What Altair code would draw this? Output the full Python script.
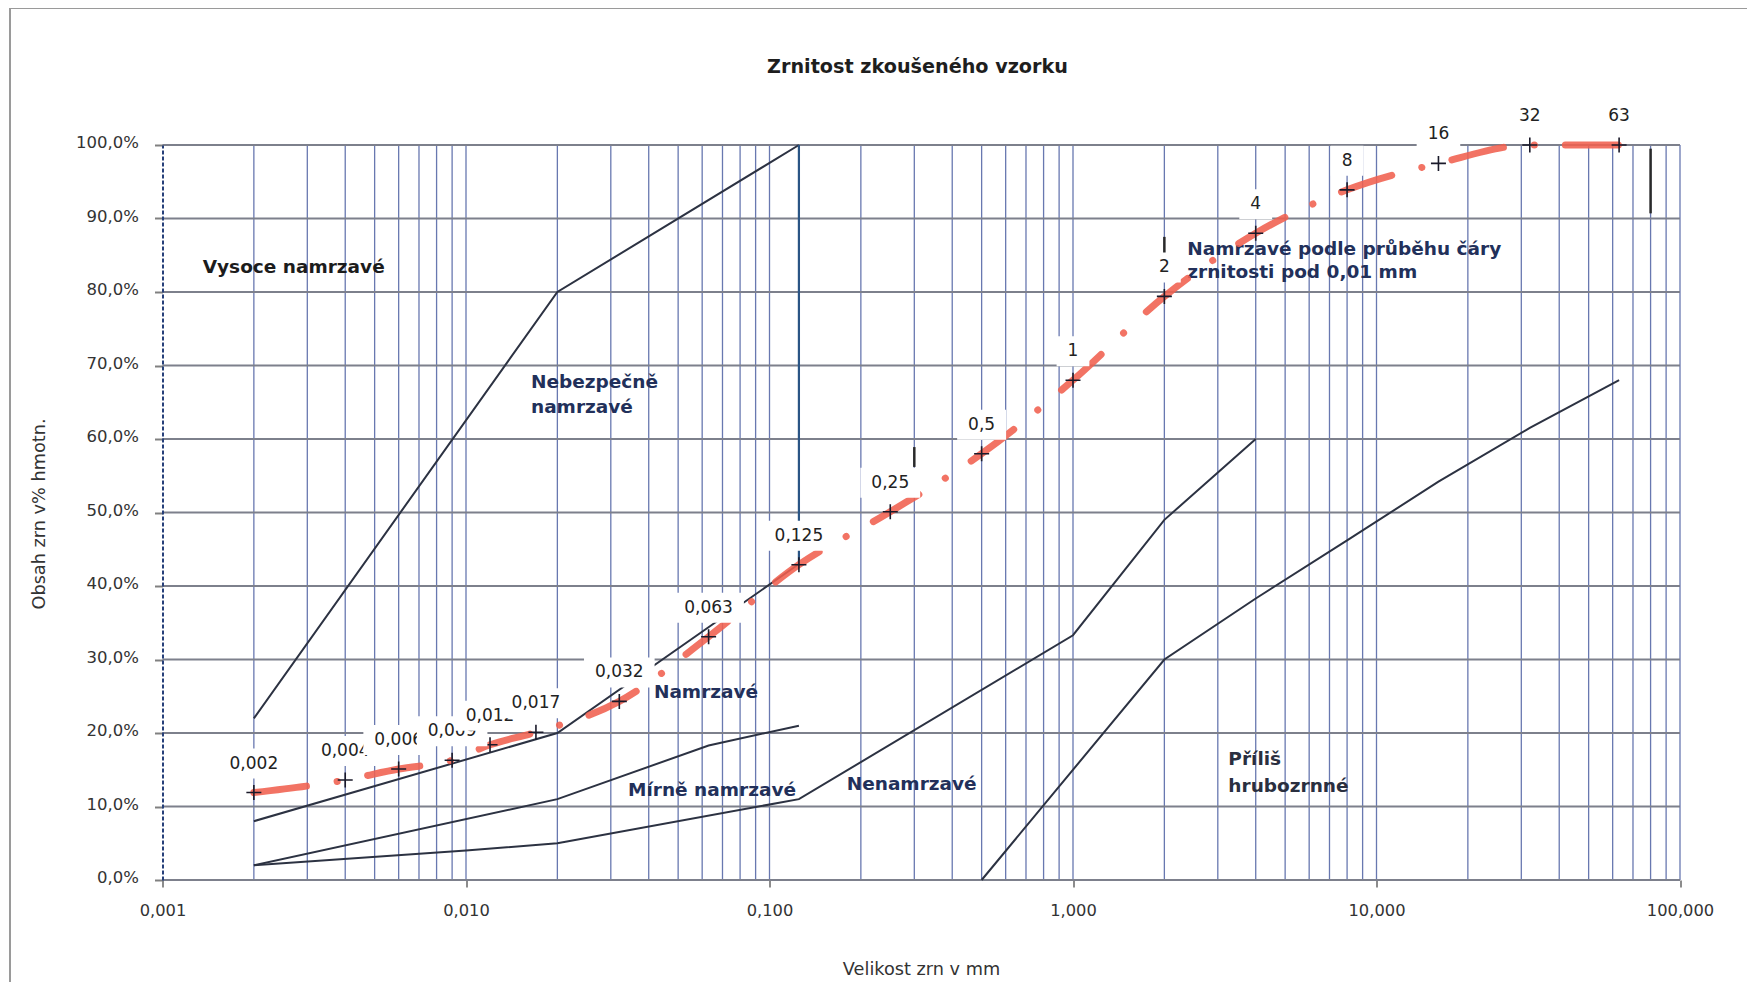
import altair as alt
import pandas as pd

FONT = "DejaVu Sans"
W, H = 1517.5, 735

# ---- sample grading curve ----
sieve_mm = [0.002, 0.004, 0.006, 0.009, 0.012, 0.017, 0.032, 0.063, 0.125,
            0.25, 0.5, 1, 2, 4, 8, 16, 32, 63]
sieve_labels = ["0,002", "0,004", "0,006", "0,009", "0,012", "0,017", "0,032",
                "0,063", "0,125", "0,25", "0,5", "1", "2", "4", "8", "16", "32", "63"]
passing_pct = [11.9, 13.6, 15.1, 16.3, 18.4, 20.1, 24.3, 33.1, 42.9,
               50.1, 58.0, 68.0, 79.4, 88.0, 93.9, 97.5, 100, 100]

# ---- frost-susceptibility boundary lines ----
vysoce_x = [0.002, 0.02, 0.125]
vysoce_y = [22, 80, 100]
nebezp_x = [0.125, 0.125]
nebezp_y = [43, 100]
namrz_x = [0.002, 0.02, 0.125]
namrz_y = [8, 20, 43]
mirne_x = [0.002, 0.02, 0.063, 0.125]
mirne_y = [2, 11, 18.3, 21]
nenam_x = [0.002, 0.01, 0.02, 0.125, 1, 2, 4]
nenam_y = [2, 4, 5, 11, 33.3, 49, 60]
prilis_x = [0.5, 2, 4, 8, 16, 32, 63]
prilis_y = [0, 30, 38.3, 46.2, 54.2, 61.5, 68]

# short dark vertical strokes visible in the scan
mark_x = [0.3, 2, 80]
mark_y1 = [56.2, 84.1, 90.7]
mark_y2 = [58.9, 87.5, 99.5]

# ---- zone annotations ----
ann_text = ["Vysoce namrzavé", "Nebezpečně", "namrzavé",
            "Namrzavé podle průběhu čáry", "zrnitosti pod 0,01 mm",
            "Namrzavé", "Mírně namrzavé", "Nenamrzavé", "Příliš", "hrubozrnné"]
ann_x = [0.001357, 0.01637, 0.01637, 2.38, 2.38, 0.0416, 0.0342, 0.1796, 3.25, 3.25]
ann_y = [83.4, 67.8, 64.4, 85.9, 82.7, 25.6, 12.3, 13.1, 16.4, 12.8]
ann_col = ["#1c1c1c", "#22305a", "#22305a", "#22305a", "#22305a",
           "#22305a", "#22305a", "#22305a", "#2a2f40", "#2a2f40"]

# ---- axes ----
grid_x = [m * 10.0 ** k for k in range(-3, 2) for m in range(1, 10)] + [100.0]
grid_y = list(range(0, 101, 10))
decade_ticks = [0.001, 0.01, 0.1, 1, 10, 100]

title_text = "Zrnitost zkoušeného vzorku"
x_title = "Velikost zrn v mm"
y_title = "Obsah zrn v% hmotn."

xscale = alt.Scale(type="log", domain=[0.001, 100], nice=False)
yscale = alt.Scale(domain=[0, 100], nice=False, zero=False)
xaxis = alt.Axis(values=decade_ticks,
                 labelExpr="replace(format(datum.value, '.3f'), '.', ',')",
                 grid=False, domain=False, ticks=True, tickSize=7, tickWidth=1.5,
                 tickColor="#666666", labelFont=FONT, labelFontSize=16.3,
                 labelColor="#333333", labelPadding=15, labelOverlap=False,
                 labelFlush=False, title=None)
yaxis = alt.Axis(values=grid_y,
                 labelExpr="replace(format(datum.value, '.1f'), '.', ',') + '%'",
                 grid=False, domain=True, domainColor="#27407a", domainDash=[4, 2],
                 domainWidth=2, tickSize=8, tickWidth=2, tickColor="#808080",
                 labelFont=FONT, labelFontSize=16.5, labelColor="#333333",
                 labelPadding=16, labelOffset=-2.5, labelOverlap=False,
                 title=None, zindex=1)


def X():
    return alt.X("x:Q", scale=xscale, axis=xaxis)


def Y():
    return alt.Y("y:Q", scale=yscale, axis=yaxis)


layers = []

# vertical grid (minor log grid)
vg = pd.DataFrame({"x": [g for g in grid_x if g > 0.0011]})
layers.append(alt.Chart(vg).mark_rule(color="#6878b0", strokeWidth=1.3)
              .encode(x=X(), y=alt.value(0), y2=alt.value(H)))
# horizontal grid
hg = pd.DataFrame({"y": grid_y})
layers.append(alt.Chart(hg).mark_rule(color="#7d808c", strokeWidth=2)
              .encode(y=Y(), x=alt.value(0), x2=alt.value(W)))

# boundary lines
rows = []
for name, xs, ys in [("vysoce", vysoce_x, vysoce_y), ("namrz", namrz_x, namrz_y),
                     ("mirne", mirne_x, mirne_y), ("nenam", nenam_x, nenam_y),
                     ("prilis", prilis_x, prilis_y)]:
    for i, (a, b) in enumerate(zip(xs, ys)):
        rows.append({"seg": name, "x": a, "y": b, "o": i})
bd = pd.DataFrame(rows)
layers.append(alt.Chart(bd).mark_line(color="#2c3242", strokeWidth=2)
              .encode(x=X(), y=Y(), detail="seg:N", order="o:Q"))
nb = pd.DataFrame({"x": nebezp_x, "y": nebezp_y})
layers.append(alt.Chart(nb).mark_line(color="#2a5585", strokeWidth=2.2)
              .encode(x=X(), y=Y()))

# scan strokes
mk = pd.DataFrame({"x": mark_x, "y": mark_y1, "y2": mark_y2})
layers.append(alt.Chart(mk).mark_rule(color="#2a2a2a", strokeWidth=2.5)
              .encode(x=X(), y=Y(), y2="y2:Q"))

# annotations
an = pd.DataFrame({"text": ann_text, "x": ann_x, "y": ann_y, "col": ann_col})
layers.append(alt.Chart(an).mark_text(align="left", baseline="middle", font=FONT,
                                      fontSize=18.5, fontWeight="bold")
              .encode(x=X(), y=Y(), text="text:N",
                      color=alt.Color("col:N", scale=None)))

# sample curve
sd = pd.DataFrame({"x": sieve_mm, "y": passing_pct, "lab": sieve_labels})
layers.append(alt.Chart(sd).mark_line(color="#f0604f", strokeWidth=7, opacity=0.88,
                                      strokeDash=[53, 31, 0.1, 31], strokeCap="round",
                                      interpolate="monotone")
              .encode(x=X(), y=Y()))
layers.append(alt.Chart(sd).mark_point(shape="M-7.5,0L7.5,0M0,-7.5L0,7.5", size=4,
                                       filled=False, color="#1a1a2a", strokeWidth=1.6,
                                       opacity=1)
              .encode(x=X(), y=Y()))

# point labels with white boxes, drawn in sequence
DIG = 0.636 * 17
COM = 0.318 * 17
for i in range(len(sieve_mm)):
    lab = sieve_labels[i]
    tw = sum(COM if c == "," else DIG for c in lab)
    hw = (tw + 22) / 2
    shape = f"M{-hw:.1f},-44L{hw:.1f},-44L{hw:.1f},-14L{-hw:.1f},-14Z"
    row = sd.iloc[[i]]
    layers.append(alt.Chart(row).mark_point(shape=shape, size=4, filled=True,
                                            color="white", opacity=1, strokeWidth=0)
                  .encode(x=X(), y=Y()))
    layers.append(alt.Chart(row).mark_text(dy=-29, baseline="middle", align="center",
                                           font=FONT, fontSize=17, color="#222222")
                  .encode(x=X(), y=Y(), text="lab:N"))

# titles
one = pd.DataFrame({"t": [title_text]})
layers.append(alt.Chart(one).mark_text(font=FONT, fontSize=19.2, fontWeight="bold",
                                       color="#1e1e1e", align="center",
                                       baseline="alphabetic")
              .encode(text="t:N", x=alt.value(755), y=alt.value(-71.7)))
xt = pd.DataFrame({"t": [x_title]})
layers.append(alt.Chart(xt).mark_text(font=FONT, fontSize=17.7, color="#333333",
                                      align="center", baseline="alphabetic")
              .encode(text="t:N", x=alt.value(759), y=alt.value(830)))
yt = pd.DataFrame({"t": [y_title]})
layers.append(alt.Chart(yt).mark_text(font=FONT, fontSize=17.7, color="#333333",
                                      align="center", baseline="middle", angle=270)
              .encode(text="t:N", x=alt.value(-122.5), y=alt.value(369)))

# outer frame of the chart object
fr = pd.DataFrame({"a": [0]})
layers.append(alt.Chart(fr).mark_rule(color="#9a9a9a", strokeWidth=2)
              .encode(x=alt.value(-152.5), x2=alt.value(1600), y=alt.value(-137)))
layers.append(alt.Chart(fr).mark_rule(color="#9a9a9a", strokeWidth=2)
              .encode(x=alt.value(-152.5), y=alt.value(-137), y2=alt.value(840)))

chart = (alt.layer(*layers)
         .properties(width=W, height=H,
                     padding={"left": 154.5, "top": 137, "right": 67, "bottom": 102},
                     autosize=alt.AutoSizeParams(type="none"))
         .configure_view(stroke=None))

chart.save("out.html", embed_options={"renderer": "svg", "actions": False})
